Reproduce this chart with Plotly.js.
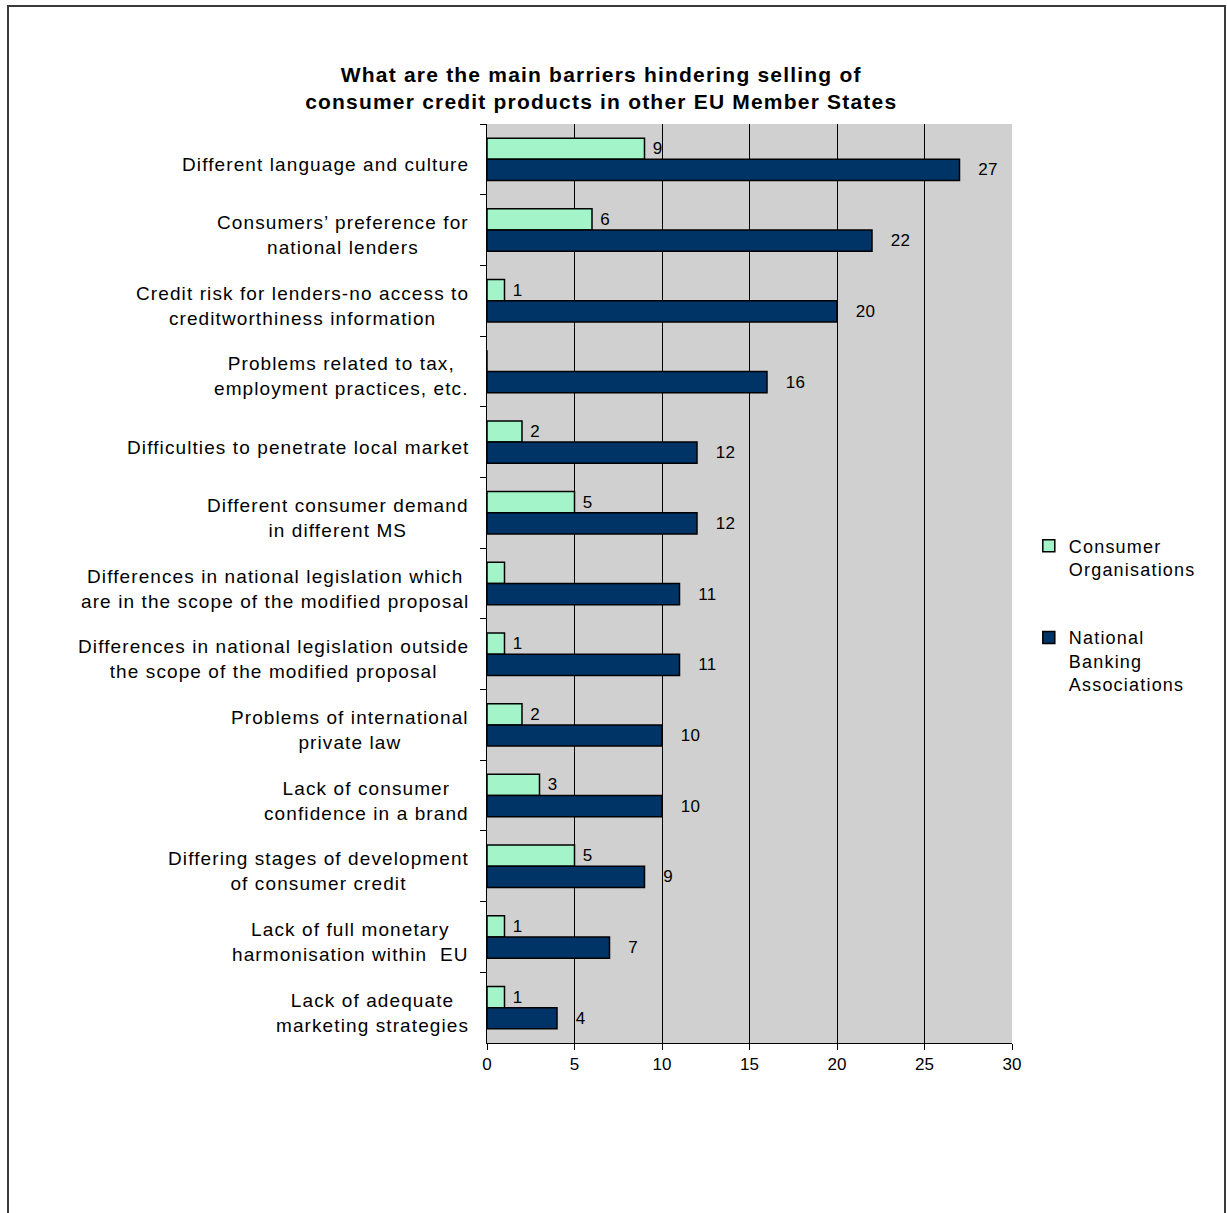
<!DOCTYPE html>
<html>
<head>
<meta charset="utf-8">
<script src="https://cdn.plot.ly/plotly-3.0.1.min.js"></script>
<style>
  html, body { margin: 0; padding: 0; background: #fff; }
  #wrap { position: relative; width: 1227px; height: 1213px; }
  #chart { width: 1227px; height: 1213px; }
  #frame { position: absolute; left: 7px; top: 5px; width: 1219px; height: 1230px;
           border: 2px solid #3a3a3a; pointer-events: none; box-sizing: border-box; }
  text.annotation-text { letter-spacing: 1.1px; }
  text.gtitle { letter-spacing: 1.2px; }
  text.legendtext { letter-spacing: 1.2px; }
  text.bartext { letter-spacing: 0.5px; }
</style>
</head>
<body>
<div id="wrap">
  <div id="chart"></div>
  <div id="frame"></div>
</div>
<script>
const categories = [
  "Different language and culture",
  "Consumers\u2019 preference for<br>national lenders",
  "Credit risk for lenders-no access to<br>creditworthiness information",
  "Problems related to tax,<br>employment practices, etc.",
  "Difficulties to penetrate local market",
  "Different consumer demand<br>in different MS",
  "Differences in national legislation which<br>are in the scope of the modified proposal",
  "Differences in national legislation outside<br>the scope of the modified proposal",
  "Problems of international<br>private law",
  "Lack of consumer<br>confidence in a brand",
  "Differing stages of development<br>of consumer credit",
  "Lack of full monetary<br>harmonisation within  EU",
  "Lack of adequate<br>marketing strategies"
];
const consumerOrgs = [9, 6, 1, 0, 2, 5, 1, 1, 2, 3, 5, 1, 1];
const consumerLabels = ["9", "6", "1", "", "2", "5", "", "1", "2", "3", "5", "1", "1"];
const bankingAssoc = [27, 22, 20, 16, 12, 12, 11, 11, 10, 10, 9, 7, 4];
const xTicks = [0, 5, 10, 15, 20, 25, 30];

const keys = categories.map((c, i) => "c" + i);
const font = "Liberation Sans, Arial, sans-serif";
const NB = "\u00a0";

const traces = [
  {
    type: "bar", orientation: "h", name: "Consumer<br>Organisations",
    legendgroup: "g1",
    y: keys, x: consumerOrgs,
    text: consumerLabels.map(t => t === "" ? "" : NB + t),
    textposition: "outside", cliponaxis: false, constraintext: "none",
    textfont: { family: font, size: 17, color: "#000" },
    marker: { color: "#a3f5c9", line: { color: "#000", width: 1.5 } },
    hoverinfo: "x"
  },
  {
    type: "bar", orientation: "h", name: "National<br>Banking<br>Associations",
    legendgroup: "g2",
    y: keys, x: bankingAssoc,
    text: bankingAssoc.map(v => NB + NB + NB + v),
    textposition: "outside", cliponaxis: false, constraintext: "none",
    textfont: { family: font, size: 17, color: "#000" },
    marker: { color: "#003366", line: { color: "#000", width: 1.5 } },
    hoverinfo: "x"
  }
];

const annotations = categories.map((c, i) => ({
  xref: "paper", yref: "y", x: -0.03, y: keys[i], yshift: -5,
  xanchor: "right", yanchor: "middle", align: "center",
  text: c, showarrow: false,
  font: { family: font, size: 19, color: "#000" }
}));

const layout = {
  width: 1227, height: 1213,
  margin: { l: 487, r: 215, t: 124, b: 170 },
  paper_bgcolor: "#fff", plot_bgcolor: "#d0d0d0",
  barmode: "group", bargap: 0.4, bargroupgap: 0,
  font: { family: font, size: 17, color: "#000" },
  title: {
    text: "<b>What are the main barriers hindering selling of<br>consumer credit products in other EU Member States</b>",
    x: 0.49, xref: "container", xanchor: "center",
    y: 1 - 82 / 1213, yref: "container", yanchor: "middle",
    font: { family: font, size: 21, color: "#000" }
  },
  xaxis: {
    range: [0, 30], tickvals: xTicks, ticktext: xTicks.map(String),
    showgrid: true, gridcolor: "#000", gridwidth: 1,
    zeroline: false, showline: true, linecolor: "#000", linewidth: 1,
    ticks: "outside", ticklen: 6, tickcolor: "#000",
    tickfont: { family: font, size: 17 }, fixedrange: true
  },
  yaxis: {
    type: "category", autorange: "reversed",
    showticklabels: false, showgrid: false, zeroline: false,
    showline: true, linecolor: "#000", linewidth: 1,
    ticks: "outside", ticklen: 6, tickcolor: "#000", tickson: "boundaries",
    fixedrange: true
  },
  legend: {
    x: 1.032, xanchor: "left", y: 0.561, yanchor: "top",
    valign: "top", tracegroupgap: 42, itemwidth: 30,
    font: { family: font, size: 18, color: "#000" },
    bgcolor: "rgba(0,0,0,0)"
  },
  annotations: annotations,
  showlegend: true
};

Plotly.newPlot("chart", traces, layout, { displayModeBar: false, staticPlot: true });
</script>
</body>
</html>
